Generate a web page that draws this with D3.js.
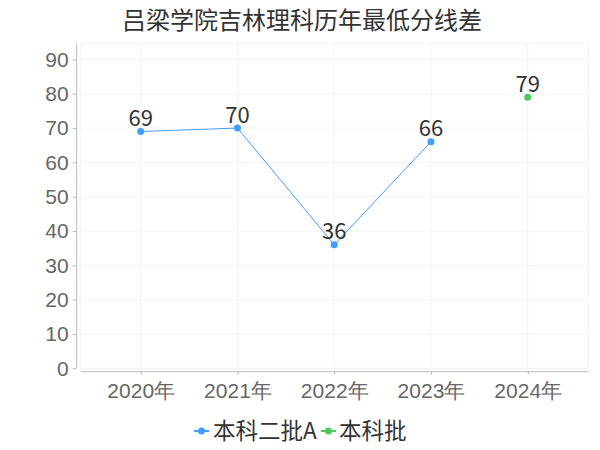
<!DOCTYPE html>
<html><head><meta charset="utf-8">
<script src="https://cdn.jsdelivr.net/npm/d3@7"></script>
<style>body{margin:0;background:#fff}svg{display:block;font-family:"Noto Sans CJK SC","Noto Sans",sans-serif}</style>
</head><body><svg id="c" width="600" height="450"></svg>
<script>
const title = "吕梁学院吉林理科历年最低分线差";
const categories = ["2020年","2021年","2022年","2023年","2024年"];
const seriesNames = ["本科二批A","本科批"];
const seriesA = [69,70,36,66,null];
const seriesB = [null,null,null,null,79];
const yTicks = [0,10,20,30,40,50,60,70,80,90];
const colors = ["#409EFF","#4CC95A"];

const svg = d3.select("#c");
const pLeft = 80.7, pRight = 588.3, pTop = 43.3, pBottom = 368.3;
const x = d3.scalePoint().domain(categories).range([140.7, 527.7]);
const y = d3.scaleLinear().domain([0, 94.7]).range([pBottom, pTop]);

// title
svg.append("text").attr("x",302).attr("y",28.5).attr("text-anchor","middle")
  .attr("font-size",24).attr("fill","#333").text(title);

// plot frame / grid
const g = svg.append("g");
g.append("rect").attr("x",pLeft).attr("y",pTop).attr("width",pRight-pLeft).attr("height",pBottom-pTop)
  .attr("fill","none").attr("stroke","#f3f3f3");
yTicks.forEach(t=>{
  g.append("line").attr("x1",pLeft).attr("x2",pRight).attr("y1",y(t)).attr("y2",y(t)).attr("stroke","#f3f3f3");
});
categories.forEach(c=>{
  g.append("line").attr("x1",x(c)).attr("x2",x(c)).attr("y1",pTop).attr("y2",pBottom).attr("stroke","#f3f3f3");
});

// y axis
const yAxis = d3.axisLeft(y).tickValues(yTicks).tickSize(4).tickPadding(4);
const ya = svg.append("g").attr("transform","translate(76.7,0)").call(yAxis);
ya.select(".domain").attr("d",`M0,${pTop}V${pBottom}`).attr("stroke","#bbb");
ya.selectAll(".tick line").attr("stroke","#bbb");
ya.selectAll(".tick text").attr("font-size",21).attr("fill","#666").attr("font-family","inherit");

// x axis
const xAxis = d3.axisBottom(x).tickSize(3).tickPadding(8);
const xa = svg.append("g").attr("transform","translate(0,371.7)").call(xAxis);
xa.select(".domain").attr("d",`M${pLeft},0H${pRight}`).attr("stroke","#bbb");
xa.selectAll(".tick line").attr("stroke","#bbb");
xa.selectAll(".tick text").attr("font-size",21).attr("fill","#666").attr("font-family","inherit");

// series
[seriesA, seriesB].forEach((vals,i)=>{
  const data = categories.map((c,j)=>({c, v: vals[j]})).filter(d=>d.v!=null);
  const line = d3.line().x(d=>x(d.c)).y(d=>y(d.v));
  svg.append("path").datum(data).attr("d",line).attr("fill","none").attr("stroke",colors[i]).attr("stroke-width",1);
  svg.selectAll(null).data(data).enter().append("circle")
    .attr("cx",d=>x(d.c)).attr("cy",d=>y(d.v)).attr("r",3.5).attr("fill",colors[i]);
  svg.selectAll(null).data(data).enter().append("text")
    .attr("x",d=>x(d.c)).attr("y",d=>y(d.v)-5.5).attr("text-anchor","middle")
    .attr("font-size",22).attr("fill","#333").text(d=>d.v);
});

// legend
const legend = svg.append("g");
const items = [{x:194, tx:213},{x:321, tx:339}];
seriesNames.forEach((n,i)=>{
  const it = items[i];
  legend.append("line").attr("x1",it.x).attr("x2",it.x+15).attr("y1",431).attr("y2",431)
    .attr("stroke",colors[i]).attr("stroke-width",2);
  legend.append("circle").attr("cx",it.x+7.5).attr("cy",431).attr("r",3.5).attr("fill",colors[i]);
  legend.append("text").attr("x",it.tx).attr("y",439).attr("font-size",22.5).attr("fill","#333").text(n);
});
</script></body></html>
